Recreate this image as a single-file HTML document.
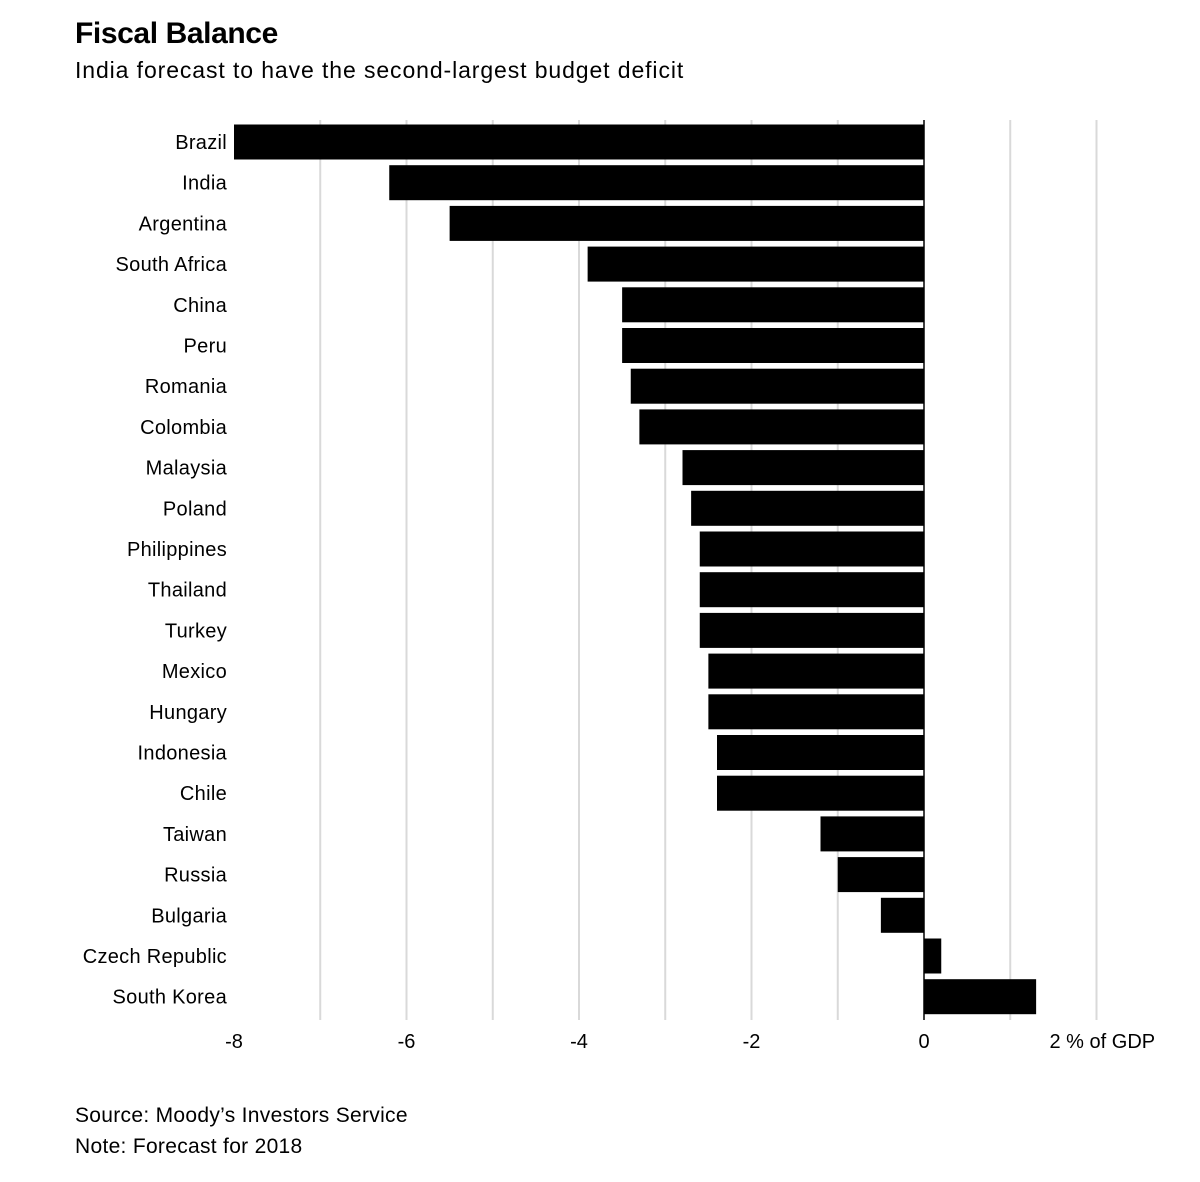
<!DOCTYPE html>
<html><head><meta charset="utf-8"><style>
body{margin:0;background:#fff;font-family:"Liberation Sans",Arial,sans-serif;}
svg text{font-family:"Liberation Sans",Arial,sans-serif;}
</style></head><body>
<svg width="1200" height="1177" xmlns="http://www.w3.org/2000/svg">
<rect width="1200" height="1177" fill="#fff"/>
<text x="75" y="43" font-size="30" font-weight="bold" letter-spacing="-0.4" fill="#000">Fiscal Balance</text>
<text x="75" y="78" font-size="23" letter-spacing="0.9" fill="#000">India forecast to have the second-largest budget deficit</text>
<g id="grid"></g><g id="bars"></g><g id="labels"></g><g id="ticks"></g>
<text x="75" y="1122" font-size="21" letter-spacing="0.3" fill="#000">Source: Moody’s Investors Service</text>
<text x="75" y="1153" font-size="21" letter-spacing="0.3" fill="#000">Note: Forecast for 2018</text>
</svg>
<script>
const countries=["Brazil","India","Argentina","South Africa","China","Peru","Romania","Colombia","Malaysia","Poland","Philippines","Thailand","Turkey","Mexico","Hungary","Indonesia","Chile","Taiwan","Russia","Bulgaria","Czech Republic","South Korea"];
const values=[-8.0,-6.2,-5.5,-3.9,-3.5,-3.5,-3.4,-3.3,-2.8,-2.7,-2.6,-2.6,-2.6,-2.5,-2.5,-2.4,-2.4,-1.2,-1.0,-0.5,0.2,1.3];
const tickValues=[-8,-6,-4,-2,0,2];
const tickLabels=["-8","-6","-4","-2","0","2 % of GDP"];
const gridValues=[-7,-6,-5,-4,-3,-2,-1,1,2];
const NS="http://www.w3.org/2000/svg";
const x=v=>924+v*86.25;
const yc=i=>142+i*40.7;
function mk(t,a,p){const e=document.createElementNS(NS,t);for(const k in a)e.setAttribute(k,a[k]);document.getElementById(p).appendChild(e);return e;}
gridValues.forEach(v=>{const l=mk("line",{x1:x(v),x2:x(v),y1:120,y2:1020,stroke:"#d9d9d9","stroke-width":2},"grid");

});
values.forEach((v,i)=>{const r=mk("rect",{x:Math.min(x(v),x(0)),y:yc(i)-17.5,width:Math.abs(x(v)-x(0)),height:35,fill:"#000"},"bars");


const t=mk("text",{x:227,y:yc(i)+7,"text-anchor":"end","font-size":20,"letter-spacing":0.3,fill:"#000"},"labels");t.textContent=countries[i];

});
const z=mk("line",{x1:x(0),x2:x(0),y1:120,y2:1020,stroke:"#000","stroke-width":1.5},"grid");


tickValues.forEach((v,i)=>{const t=mk("text",{x:x(v)+(i==5?-47:0),y:1048,"text-anchor":i==5?"start":"middle","font-size":20,fill:"#000"},"ticks");t.textContent=tickLabels[i];

});
</script>
</body></html>
